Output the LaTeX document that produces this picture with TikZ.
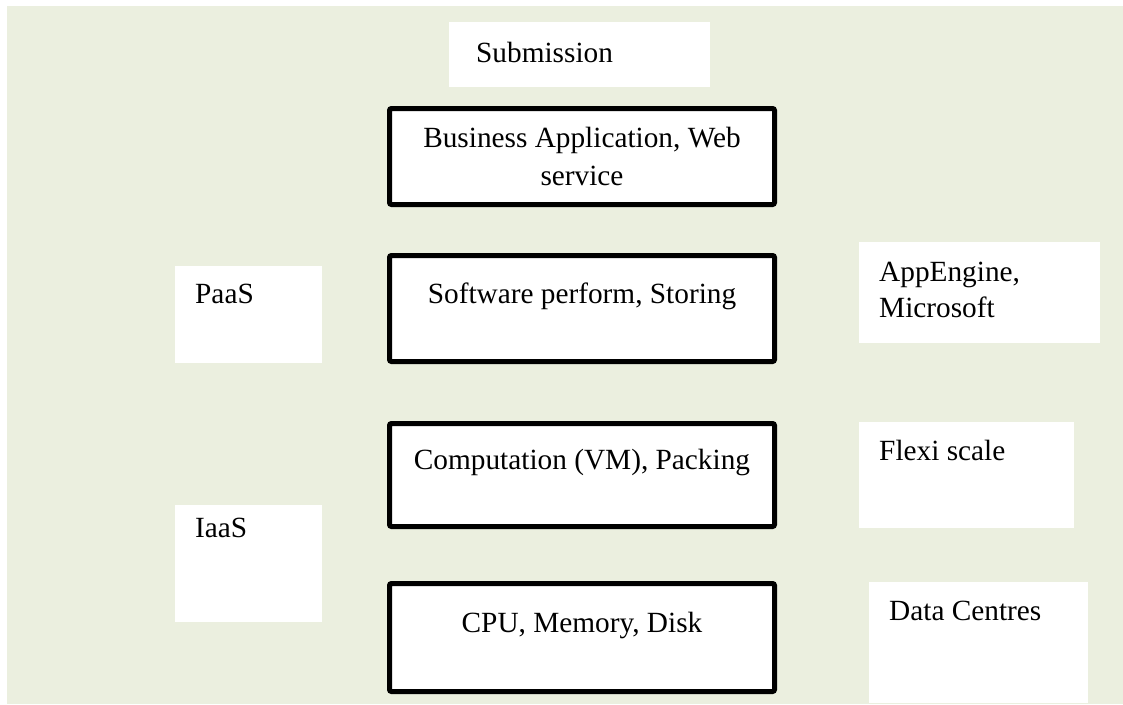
\documentclass[tikz,border=0pt]{standalone}
\usepackage{fontspec}
\setmainfont{Liberation Serif}
\definecolor{bg}{RGB}{235,239,223}
\tikzset{
  txt/.style={inner sep=0pt, font=\fontsize{29.3}{37}\selectfont, text=black},
  whitebox/.style={fill=white, draw=none, inner sep=0pt},
  blackbox/.style={fill=white, draw=black, line width=5pt, rounded corners=2pt, inner sep=0pt, minimum width=385pt}
}
\begin{document}
\begin{tikzpicture}[x=1pt,y=-1pt]
\useasboundingbox (0,0) rectangle (1123,704);
\fill[white] (0,0) rectangle (1123,704);
\fill[bg] (7,6) rectangle (1123,704);
% white label boxes
\node[whitebox, minimum width=261pt, minimum height=65pt] (subbox) at (579.5,54.5) {};
\node[whitebox, minimum width=147pt, minimum height=97pt] (paasbox) at (248.5,314.5) {};
\node[whitebox, minimum width=147pt, minimum height=117pt] (iaasbox) at (248.5,563.5) {};
\node[whitebox, minimum width=241pt, minimum height=101pt] (appbox) at (979.5,292.5) {};
\node[whitebox, minimum width=215pt, minimum height=106pt] (flexbox) at (966.5,475) {};
\node[whitebox, minimum width=219pt, minimum height=121pt] (databox) at (978.5,642.5) {};
% black layer boxes
\node[blackbox, minimum height=96pt] (ba) at (582,156.5) {};
\node[blackbox, minimum height=106pt] (sw) at (582,308.5) {};
\node[blackbox, minimum height=103pt] (comp) at (582,475) {};
\node[blackbox, minimum height=108pt] (cpu) at (582,637.5) {};
% texts
\node[txt, anchor=base west] (subt) at (476,62) {Submission};
\node[txt, anchor=base] (bat1) at (582,147) {Business Application, Web};
\node[txt, anchor=base] (bat2) at (582,185) {service};
\node[txt, anchor=base] (swt) at (582,303) {Software perform, Storing};
\node[txt, anchor=base] (compt) at (582,469) {Computation (VM), Packing};
\node[txt, anchor=base] (cput) at (582,632) {CPU, Memory, Disk};
\node[txt, anchor=base west] (paast) at (195,303) {PaaS};
\node[txt, anchor=base west] (iaast) at (195,537) {IaaS};
\node[txt, anchor=base west] (appt1) at (879,281) {AppEngine,};
\node[txt, anchor=base west] (appt2) at (879,317) {Microsoft};
\node[txt, anchor=base west] (flext) at (879,460) {Flexi scale};
\node[txt, anchor=base west] (datat) at (889,620) {Data Centres};
\end{tikzpicture}
\end{document}
